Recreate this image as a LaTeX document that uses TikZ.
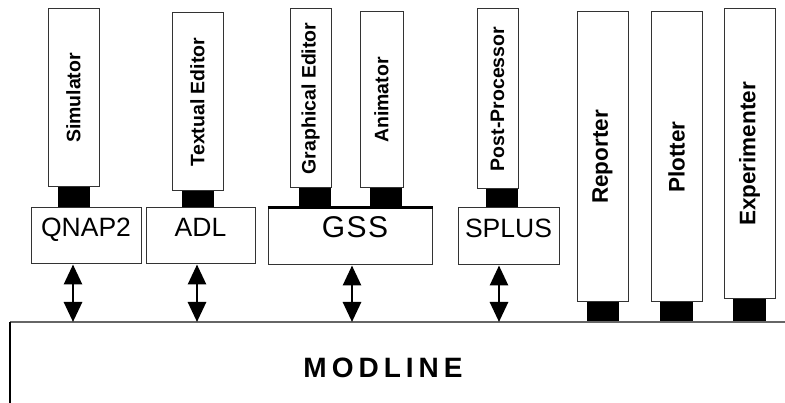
\documentclass[tikz,border=0pt]{standalone}
\usepackage{fontspec}
\usepackage{graphicx}
\setmainfont{Liberation Sans}
\usetikzlibrary{arrows.meta}
\begin{document}
\begin{tikzpicture}[x=1pt,y=-1pt,
  toolbox/.style={draw=black!80, line width=1pt, fill=white, inner sep=0pt,
    font=\bfseries\fontsize{19.5}{21}\selectfont},
  bigtool/.style={toolbox, font=\bfseries\fontsize{22.5}{24}\selectfont},
  plug/.style={fill=black, draw=none, inner sep=0pt},
  langbox/.style={draw=black!80, line width=1pt, fill=white, inner sep=0pt,
    text height=20pt, text depth=18pt, font=\fontsize{26.5}{28}\selectfont},
  dblarrow/.style={line width=2.8pt,
    {Triangle[length=20pt 0,width=18pt 0]}-{Triangle[length=20pt 0,width=18pt 0]}},
]
\useasboundingbox (0,0) rectangle (785,403);

% plugs (black connectors)
\node[plug, minimum width=32, minimum height=21] (psim) at (74,197.5) {};
\node[plug, minimum width=32, minimum height=17] (pted) at (198,199.5) {};
\node[plug, minimum width=32, minimum height=20] (pged) at (315,198) {};
\node[plug, minimum width=32, minimum height=20] (pani) at (386,198) {};
\node[plug, minimum width=32, minimum height=19] (ppp) at (502,198.5) {};
\node[plug, minimum width=32, minimum height=21] (prep) at (603,312.5) {};
\node[plug, minimum width=33, minimum height=21] (pplo) at (676.5,312.5) {};
\node[plug, minimum width=33, minimum height=24] (pexp) at (749.5,311) {};

% tools
\node[toolbox, minimum width=51, minimum height=178] (sim) at (73.5,98) {\rotatebox{90}{Simulator}};
\node[toolbox, minimum width=51, minimum height=178] (ted) at (197.5,102) {\rotatebox{90}{Textual Editor}};
\node[toolbox, minimum width=41, minimum height=179] (ged) at (310.5,98.5) {\rotatebox{90}{Graphical Editor}};
\node[toolbox, minimum width=43, minimum height=176] (ani) at (381.5,100) {\rotatebox{90}{Animator}};
\node[toolbox, minimum width=41, minimum height=180] (pp) at (497.5,99) {\rotatebox{90}{Post-Processor}};
\node[bigtool, minimum width=51, minimum height=290] (rep) at (602.5,157) {\rotatebox{90}{Reporter}};
\node[bigtool, minimum width=51, minimum height=290] (plo) at (676.5,157) {\rotatebox{90}{Plotter}};
\node[bigtool, minimum width=51, minimum height=290] (exp) at (749.5,154) {\rotatebox{90}{Experimenter}};

% languages
\node[langbox, minimum width=110, minimum height=56] (qnap) at (86,236) {QNAP2};
\node[langbox, minimum width=109, minimum height=56] (adl) at (200.5,236) {ADL};
\node[langbox, minimum width=164, minimum height=57, font=\fontsize{30}{32}\selectfont,
  text height=22pt, text depth=19pt] (gss) at (350,236.5) {\kern10pt G\kern1.5pt S\kern1.5pt S};
\node[langbox, minimum width=101, minimum height=57] (splus) at (508.5,236.5) {SPLUS};
\draw[line width=2.2pt] (gss.north west) -- (gss.north east);

% MODLINE
\coordinate (mtl) at (10,322);
\coordinate (mtr) at (785,322);
\coordinate (mbl) at (10,403);
\draw[line width=1.6pt, draw=black!60] (mtl) -- (mtr);
\draw[line width=1.2pt] (mtl) -- (mbl);
\node[font=\bfseries\fontsize{28}{30}\selectfont] (modline) at (383,368)
  {M\kern5pt O\kern5pt D\kern5pt L\kern5pt I\kern5pt N\kern5pt E};

% arrows
\coordinate (a1) at (73,322);
\coordinate (a2) at (197,322);
\coordinate (a3) at (352,322);
\coordinate (a4) at (499,322);
\draw[dblarrow] (a1 |- qnap.south) -- (a1);
\draw[dblarrow] (a2 |- adl.south) -- (a2);
\draw[dblarrow] (a3 |- gss.south) -- (a3);
\draw[dblarrow] (a4 |- splus.south) -- (a4);
\end{tikzpicture}
\end{document}
